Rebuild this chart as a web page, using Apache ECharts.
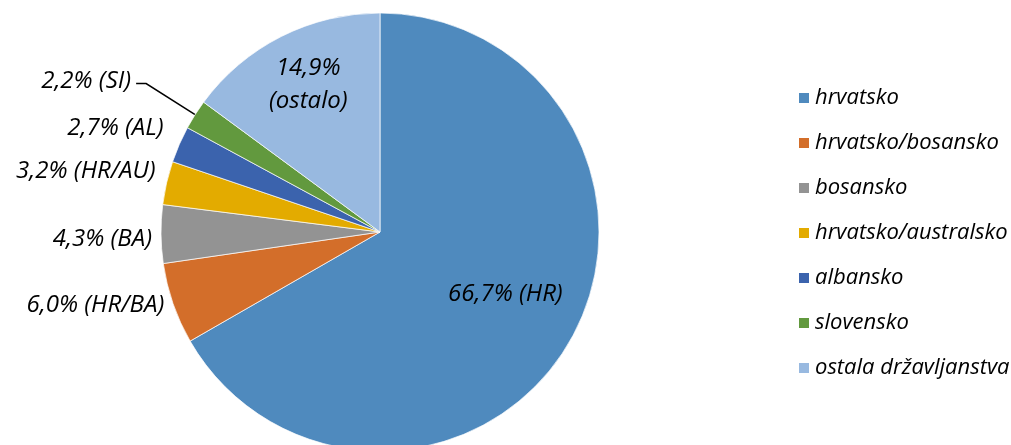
<!DOCTYPE html>
<html><head><meta charset="utf-8">
<script src="https://cdn.jsdelivr.net/npm/echarts@6/dist/echarts.min.js"></script>
<style>html,body{margin:0;padding:0;background:#fff}#c{width:1011px;height:445px}</style>
</head><body><div id="c"></div>
<script>
const categories = ['hrvatsko','hrvatsko/bosansko','bosansko','hrvatsko/australsko','albansko','slovensko','ostala državljanstva'];
const values = [66.7, 6.0, 4.3, 3.2, 2.7, 2.2, 14.9];
const codes = ['HR','HR/BA','BA','HR/AU','AL','SI','ostalo'];
const colors = ['#4F8ABE','#D36E2A','#939393','#E3AB00','#3B63AD','#62993E','#98B9E0'];
// label nudges (dx, dy) relative to library's own outside-label layout
const labelNudge = [[0,0],[0,0],[0,5],[-2,-11],[-7,-15],[0,-2],[0,0]];

const FONT = '"Open Sans", sans-serif';
const fmt = v => v.toFixed(1).replace('.', ',') + '%';

const data = categories.map((name, i) => {
  const d = { name, value: values[i], itemStyle: { color: colors[i] } };
  if (i === 0) {
    d.label = { position: 'inside', offset: [28, 6], formatter: fmt(values[i]) + ' (' + codes[i] + ')' };
  } else if (i === 6) {
    d.label = { position: 'inside', offset: [-21, -47], align: 'center', lineHeight: 33, formatter: fmt(values[i]) + '\n(' + codes[i] + ')' };
  } else if (i === 5) {
    d.label = { position: 'outside', formatter: fmt(values[i]) + ' (' + codes[i] + ')' };
    d.labelLine = { show: true, length: 58, length2: 10, lineStyle: { color: '#000', width: 1.5 } };
  } else {
    d.label = { position: 'outside', formatter: fmt(values[i]) + ' (' + codes[i] + ')' };
    d.labelLine = { show: false, length: 4, length2: 0 };
  }
  return d;
});

const chart = echarts.init(document.getElementById('c'));
chart.setOption({
  animation: false,
  backgroundColor: '#fff',
  legend: {
    orient: 'vertical',
    left: 792, top: 82,
    itemWidth: 12, itemHeight: 12,
    itemGap: 23,
    icon: 'rect',
    data: categories,
    textStyle: { fontFamily: FONT, fontStyle: 'italic', fontSize: 22, color: '#000', lineHeight: 22, padding: [0, 0, 0, 0] }
  },
  series: [{
    type: 'pie',
    center: [380, 232],
    radius: 219,
    startAngle: 90,
    clockwise: true,
    avoidLabelOverlap: true,
    data,
    itemStyle: { borderColor: '#fff', borderWidth: 0.7 },
    label: { fontFamily: FONT, fontStyle: 'italic', fontSize: 24, color: '#000', distanceToLabelLine: 5 },
    labelLayout: function (p) {
      const n = labelNudge[p.dataIndex];
      if (!n || (n[0] === 0 && n[1] === 0)) return {};
      return { dx: n[0], dy: n[1] };
    },
    emphasis: { disabled: true }
  }]
});
</script></body></html>
